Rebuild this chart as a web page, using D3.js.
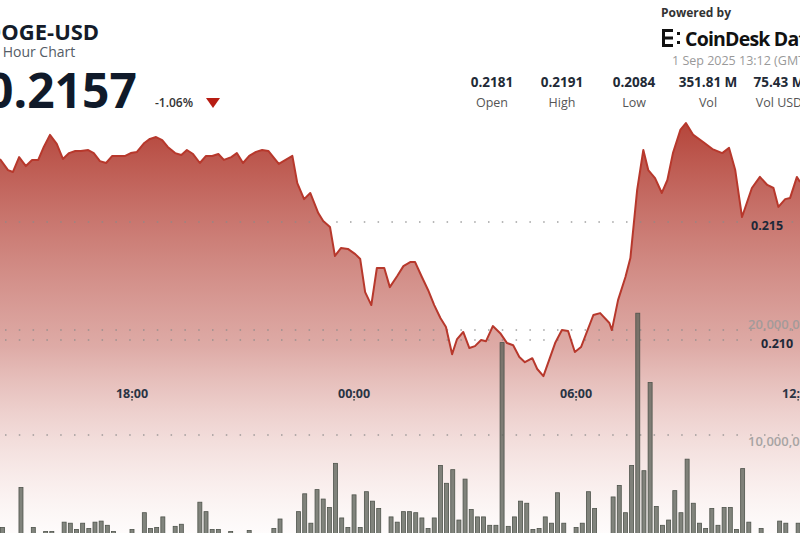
<!DOCTYPE html>
<html><head><meta charset="utf-8">
<script src="https://cdn.jsdelivr.net/npm/d3@7"></script>
<style>body{margin:0;background:#fff;overflow:hidden}svg{display:block;font-family:"Open Sans",sans-serif}</style>
</head><body><svg id="c" width="800" height="533"></svg>
<script>
// minutes after 31 Aug 2025 14:26 (local chart time)
const priceMinutes = [0,13,21,31,42,52,62,71,81,92,102,112,122,131,143,152,162,172,182,191,203,212,222,234,243,253,263,272,284,294,303,313,324,334,344,354,363,375,384,394,404,415,425,435,452,474,482,493,503,516,524,535,543,553,564,576,584,592,602,611,623,632,644,654,665,673,684,694,704,714,723,733,741,751,761,770,780,788,799,811,822,832,842,851,863,871,881,900,911,921,932,942,962,973,988,992,1002,1014,1022,1033,1043,1051,1062,1073,1082,1091,1103,1112,1124,1140,1155,1171,1182,1192,1203,1219,1232,1244,1254,1262,1273,1281,1292,1297];
const prices = [.21767,.21720,.21712,.21775,.21737,.21763,.21763,.21818,.21869,.21831,.21767,.21792,.21801,.21801,.21805,.21792,.21758,.21750,.21780,.21780,.21780,.21792,.21797,.21835,.21852,.21860,.21847,.21818,.21792,.21784,.21805,.21788,.21750,.21780,.21780,.21788,.21763,.21775,.21792,.21750,.21780,.21797,.21805,.21801,.21746,.21780,.21665,.21597,.21623,.21538,.21504,.21479,.21356,.21390,.21386,.21364,.21343,.21203,.21148,.21305,.21305,.21224,.21271,.21313,.21330,.21330,.21267,.21212,.21148,.21093,.21055,.20940,.21004,.21034,.20966,.20974,.21000,.20995,.21059,.21029,.20987,.20978,.20928,.20906,.20923,.20877,.20847,.20987,.21042,.21038,.20949,.20970,.21106,.21114,.21072,.21042,.21169,.21267,.21347,.21636,.21805,.21720,.21686,.21623,.21678,.21792,.21890,.21919,.21869,.21839,.21809,.21792,.21814,.21720,.21521,.21644,.21691,.21657,.21644,.21564,.21597,.21602,.21691,.21670];
// 10-minute volume bars starting 14:30, millions DOGE
const volumes = [1.2,0.4,0.3,5.0,0.4,1.2,0.3,0.8,0.8,0.3,1.7,1.6,1.0,1.6,1.1,1.7,1.8,1.4,0.8,0.3,0.3,1.0,0.3,2.6,1.1,1.2,2.2,0.3,1.3,1.5,0.3,0.3,3.6,2.7,1.0,1.0,0.4,0.8,0.3,0.4,0.9,0.3,0.4,0.3,1.1,2.0,0.3,0.4,2.7,4.4,1.6,4.8,3.9,3.1,7.3,2.1,1.2,4.3,1.2,4.6,3.7,3.0,0.4,2.2,1.7,2.7,2.7,2.6,2.1,1.1,2.1,7.1,5.4,6.7,1.9,5.8,2.9,2.2,2.2,1.4,1.4,18.8,1.3,2.2,3.7,3.5,1.0,1.1,2.2,1.6,4.5,1.6,0.5,1.2,1.6,4.6,3.0,0.4,0.4,4.1,5.2,2.6,7.1,21.6,6.6,15.0,3.2,1.4,1.9,4.7,2.6,7.7,3.5,1.6,1.1,3.0,1.4,3.1,3.1,1.0,6.8,1.7,0.5,1.1,0.5,0.5,1.8,1.6,0.6,1.6];
const priceTicks = [0.215, 0.210];
const volumeTicks = [20000000, 10000000];
const statValues = ["0.2181","0.2191","0.2084","351.81 M","75.43 M"];
const statLabels = ["Open","High","Low","Vol","Vol USD"];

const t0 = new Date(2025,7,31,14,26);
const tm = m => new Date(t0.getTime()+m*60000);
const svg = d3.select("#c");
const x = d3.scaleTime().domain([t0, tm(1297)]).range([0,800]);
const y = d3.scaleLinear().domain([0.210,0.215]).range([340,222]);
const yv = d3.scaleLinear().domain([0,20000000]).range([540,330]);

const defs = svg.append("defs");
const g = defs.append("linearGradient").attr("id","gr").attr("gradientUnits","userSpaceOnUse")
  .attr("x1",0).attr("x2",0).attr("y1",120).attr("y2",533);
g.append("stop").attr("offset",0).attr("stop-color","#b23e33").attr("stop-opacity",0.97);
g.append("stop").attr("offset",0.55).attr("stop-color","#c66e66").attr("stop-opacity",0.58);
g.append("stop").attr("offset",1).attr("stop-color","#e8b8b2").attr("stop-opacity",0.05);

const pts = priceMinutes.map((m,i)=>({t:tm(m),p:prices[i]}));
svg.append("path").datum(pts).attr("fill","url(#gr)")
  .attr("d", d3.area().x(d=>x(d.t)).y0(533).y1(d=>y(d.p)));

function dots(yy){
  svg.append("line").attr("x1",5).attr("x2",800).attr("y1",yy).attr("y2",yy)
    .attr("stroke","#8a8a8a").attr("stroke-width",1.6).attr("stroke-dasharray","1.5 12.3").attr("opacity",0.8);
}
priceTicks.forEach(v=>dots(y(v)));
volumeTicks.forEach(v=>dots(yv(v)));

svg.append("g").selectAll("rect").data(volumes).join("rect")
  .attr("x",(d,i)=>x(tm(4+10*i))-2).attr("width",4)
  .attr("y",d=>yv(d*1e6)).attr("height",d=>yv(0)-yv(d*1e6))
  .attr("fill","#5e635a").attr("fill-opacity",0.78).attr("stroke","#4e534b").attr("stroke-width",0.8);

svg.append("path").datum(pts).attr("fill","none").attr("stroke","#b7382c").attr("stroke-width",2)
  .attr("stroke-linejoin","round").attr("d", d3.line().x(d=>x(d.t)).y(d=>y(d.p)));

const tf = d3.timeFormat("%H:%M");
x.ticks(d3.timeHour.every(6)).forEach(t=>{
  const xx=x(t);
  svg.append("rect").attr("x",xx-0.8).attr("y",399).attr("width",1.6).attr("height",1.6).attr("fill","#555");
  svg.append("text").attr("x",xx).attr("y",398).attr("text-anchor","middle").attr("font-size",12.5)
    .attr("font-family","Noto Sans").attr("font-weight",700).attr("fill","#2a3444").text(tf(t));
});
priceTicks.forEach((v,i)=>svg.append("text").attr("x",i?761:751).attr("y",y(v)+8).attr("font-size",12.5)
  .attr("font-weight",700).attr("fill","#1d2838").text(v.toFixed(3)));
volumeTicks.forEach(v=>svg.append("text").attr("x",748).attr("y",yv(v)+(v>15e6?-1:11)).attr("font-size",13)
  .attr("font-weight",600).attr("fill","#9a9a9a").attr("opacity",0.85).text(d3.format(",")(v)));

svg.append("text").attr("x",-15).attr("y",40).attr("font-size",22).attr("font-weight",700).attr("fill","#141c2a").text("DOGE-USD");
svg.append("text").attr("x",-17).attr("y",57).attr("font-size",14).attr("fill","#555c66").text("24 Hour Chart");
svg.append("text").attr("x",-14).attr("y",108).attr("font-size",48).attr("font-weight",700).attr("fill","#101a2a").text("0.2157");
svg.append("text").attr("x",155).attr("y",107).attr("font-size",12).attr("font-weight",600).attr("fill","#333").text("-1.06%");
svg.append("path").attr("d","M206,98 L220,98 L213,108 Z").attr("fill","#b71c12");
statValues.forEach((v,i)=>{
  const cx=[492,562,634,708,779][i];
  svg.append("text").attr("x",cx).attr("y",87).attr("text-anchor","middle").attr("font-size",13.5).attr("font-weight",700).attr("fill","#222a36").text(v);
  svg.append("text").attr("x",cx).attr("y",107).attr("text-anchor","middle").attr("font-size",12.5).attr("fill","#555").text(statLabels[i]);
});
svg.append("text").attr("x",661).attr("y",17).attr("font-size",12).attr("font-weight",700).attr("fill","#333").text("Powered by");
const lg=svg.append("g").attr("fill","#111");
[[662,29,3,18],[662,29,11,3],[662,36.5,11,3],[662,44,11,3],[677,32,3,3],[677,41,3,3]].forEach(r=>lg.append("rect").attr("x",r[0]).attr("y",r[1]).attr("width",r[2]).attr("height",r[3]));
svg.append("text").attr("x",685).attr("y",46).attr("font-size",19.5).attr("font-weight",700).attr("letter-spacing",-0.8).attr("fill","#111").text("CoinDesk Data");
svg.append("text").attr("x",672).attr("y",65).attr("font-size",12.5).attr("fill","#999").text("1 Sep 2025 13:12 (GMT)");
</script></body></html>
